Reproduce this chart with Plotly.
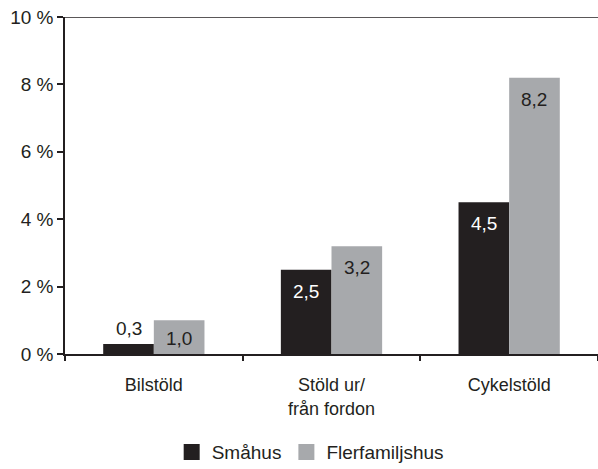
import plotly.graph_objects as go

categories = ["Bilstöld", "Stöld ur/<br>från fordon", "Cykelstöld"]
smahus = [0.3, 2.5, 4.5]
flerfamiljshus = [1.0, 3.2, 8.2]
ytick_vals = [0, 2, 4, 6, 8, 10]
ytick_text = ["0 %", "2 %", "4 %", "6 %", "8 %", "10 %"]

DARK = "#231f20"
GREY = "#a7a9ac"
FONT = "Liberation Sans"
BARGAP = 0.43


def fmt(v):
    return f"{v:.1f}".replace(".", ",")


fig = go.Figure()
fig.add_trace(go.Bar(name="Småhus", x=categories, y=smahus,
                     marker=dict(color=DARK, line=dict(width=0)), showlegend=False))
fig.add_trace(go.Bar(name="Flerfamiljshus", x=categories, y=flerfamiljshus,
                     marker=dict(color=GREY, line=dict(width=0)), showlegend=False))

# legend entries with larger square swatches
for name, col in [("Småhus", DARK), ("Flerfamiljshus", GREY)]:
    fig.add_trace(go.Scatter(x=[None], y=[None], mode="markers", name=name,
                             marker=dict(symbol="square", size=18, color=col)))

# value labels: inside near the top of each bar, above the bar when it is too short
half = (1 - BARGAP) / 4
annotations = []
for i, v in enumerate(smahus):
    if v < 0.5:
        annotations.append(dict(x=i - half, y=v, text=fmt(v), yanchor="bottom", yshift=3,
                                font=dict(color=DARK)))
    else:
        annotations.append(dict(x=i - half, y=v, text=fmt(v), yanchor="top", yshift=-9,
                                font=dict(color="white")))
for i, v in enumerate(flerfamiljshus):
    annotations.append(dict(x=i + half, y=v, text=fmt(v), yanchor="top",
                            yshift=-6 if v < 1.5 else -9, font=dict(color=DARK)))
for a in annotations:
    a.update(xref="x", yref="y", showarrow=False, xanchor="center")
    a["font"].update(size=19, family=FONT)

fig.update_layout(
    width=598, height=469,
    margin=dict(l=65, r=0, t=17, b=115, autoexpand=False),
    paper_bgcolor="white", plot_bgcolor="white",
    barmode="group", bargap=BARGAP, bargroupgap=0,
    font=dict(family=FONT, size=19, color=DARK),
    showlegend=True,
    legend=dict(orientation="h", x=0.46, xanchor="center", y=-0.235, yanchor="top",
                font=dict(size=19), traceorder="normal"),
    annotations=annotations,
)
fig.update_xaxes(
    type="category", automargin=False,
    showline=True, linecolor=DARK, linewidth=1.5,
    ticks="outside", tickson="boundaries", ticklen=5, tickcolor=DARK, tickwidth=1.5,
    tickfont=dict(size=18), ticklabelstandoff=14, showgrid=False,
)
fig.update_yaxes(
    range=[0, 10], tickvals=ytick_vals, ticktext=ytick_text, automargin=False,
    showline=True, linecolor=DARK, linewidth=1.5,
    ticks="outside", ticklen=6, tickcolor=DARK, tickwidth=1.5,
    tickfont=dict(size=19), showgrid=False, zeroline=False,
)
# top border line at 10 %
fig.add_shape(type="line", xref="paper", yref="y", x0=0, x1=1, y0=10, y1=10,
              line=dict(color=DARK, width=1.5))

fig.write_html("out.html")
